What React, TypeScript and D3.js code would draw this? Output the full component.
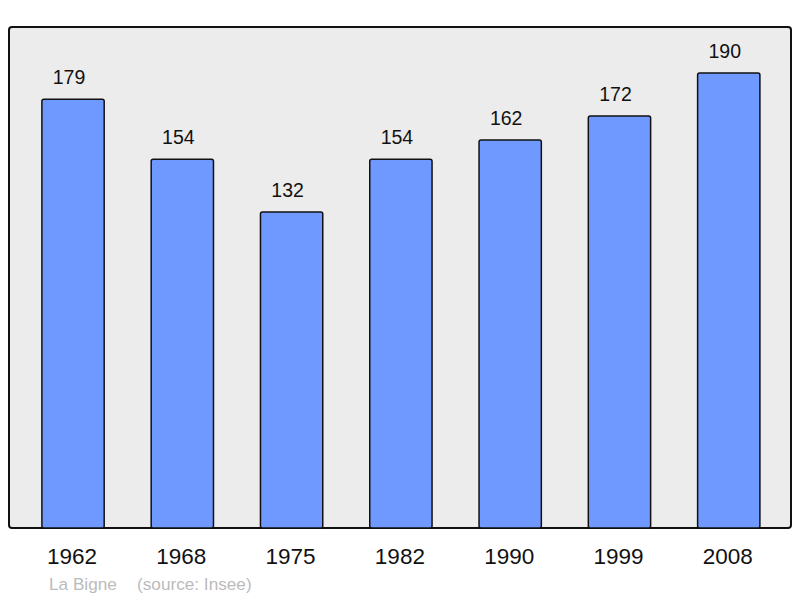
import React from 'react';
import * as d3 from 'd3';

const years = ['1962', '1968', '1975', '1982', '1990', '1999', '2008'];
const population = [179, 154, 132, 154, 162, 172, 190];
const commune = 'La Bigne';
const source = '(source: Insee)';

export default function App() {
  const W = 800;
  const H = 598;
  const frame = { x: 9, y: 27, w: 782, h: 501 };

  const x = d3.scaleBand<string>()
    .domain(years)
    .range([18.4, 783.4])
    .paddingInner(0.43)
    .paddingOuter(0.215);

  const y = d3.scaleLinear()
    .domain([0, 209.2])
    .range([frame.y + frame.h, frame.y]);

  const font = 'Liberation Sans, Arial, sans-serif';

  return (
    <svg width={W} height={H} style={{ position: 'absolute', left: 0, top: 0 }}>
      <rect x={frame.x} y={frame.y} width={frame.w} height={frame.h}
        rx={3} fill="#ececec" stroke="#111" strokeWidth={2} />
      {years.map((yr, i) => {
        const v = population[i];
        const bx = x(yr)!;
        const cx = bx + x.bandwidth() / 2;
        return (
          <g key={yr}>
            <rect x={bx} y={y(v)} width={x.bandwidth()} height={y(0) - y(v)}
              rx={2} fill="#7099ff" stroke="#111" strokeWidth={1.5} />
            <text x={cx - 4} y={y(v) - 15} textAnchor="middle"
              fontFamily={font} fontSize={19.5} fill="#111">{v}</text>
            <text x={cx - 1} y={564} textAnchor="middle"
              fontFamily={font} fontSize={22.5} fill="#111">{yr}</text>
          </g>
        );
      })}
      <text x={49} y={590} fontFamily={font} fontSize={17.2} fill="#bbb">{commune}</text>
      <text x={137} y={590} fontFamily={font} fontSize={17.2} fill="#bbb">{source}</text>
    </svg>
  );
}
